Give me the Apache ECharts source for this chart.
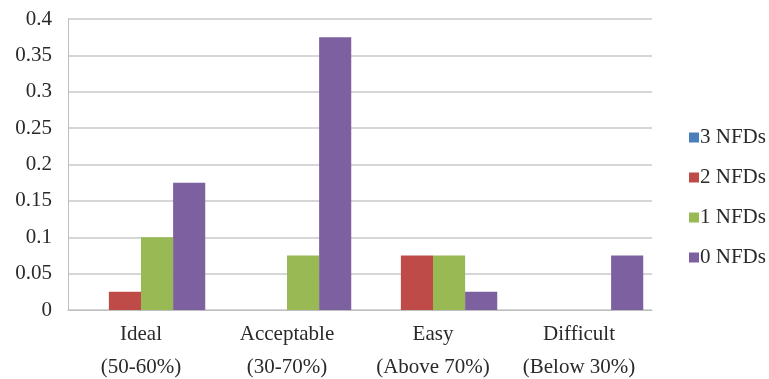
<!DOCTYPE html>
<html>
<head>
<meta charset="utf-8">
<script src="https://cdn.jsdelivr.net/npm/echarts@6/dist/echarts.min.js"></script>
<style>
  html, body { margin: 0; padding: 0; background: #fff; }
  #chart { width: 769px; height: 379px; }
</style>
</head>
<body>
<div id="chart"></div>
<script>
// Difficulty bands of the questions
const categories = ['Ideal\n(50-60%)', 'Acceptable\n(30-70%)', 'Easy\n(Above 70%)', 'Difficult\n(Below 30%)'];

// Share of items per number of non-functioning distractors
const seriesNames = ['3 NFDs', '2 NFDs', '1 NFDs', '0 NFDs'];
const nfd3 = [0, 0, 0, 0];
const nfd2 = [0.025, 0, 0.075, 0];
const nfd1 = [0.1, 0.075, 0.075, 0];
const nfd0 = [0.175, 0.375, 0.025, 0.075];

const colors = ['#4A7EBB', '#BE4B48', '#98B954', '#7D60A0'];
const serif = '"Liberation Serif", "Times New Roman", serif';
const textColor = '#2a2a2a';

const chart = echarts.init(document.getElementById('chart'));
const values = [nfd3, nfd2, nfd1, nfd0];

chart.setOption({
  animation: false,
  color: colors,
  grid: { left: 68, right: 117, top: 19, bottom: 69, outerBoundsMode: 'none', containLabel: false },
  legend: {
    orient: 'vertical',
    left: 684,
    top: 122,
    itemWidth: 10,
    itemHeight: 10,
    itemGap: 19,
    icon: 'rect',
    textStyle: { fontFamily: serif, fontSize: 21, color: textColor, padding: [0, 0, 0, -4] },
    data: seriesNames
  },
  xAxis: {
    type: 'category',
    data: categories,
    axisLine: { lineStyle: { color: '#BEBEBE', width: 1 } },
    axisTick: { show: false },
    axisLabel: {
      fontFamily: serif, fontSize: 21, color: textColor, lineHeight: 33, margin: 8,
      interval: 0
    }
  },
  yAxis: {
    type: 'value',
    min: 0,
    max: 0.4,
    interval: 0.05,
    axisLine: { show: true, lineStyle: { color: '#BEBEBE', width: 1 } },
    axisTick: { show: false },
    splitLine: { lineStyle: { color: '#C8C8C8', width: 1.5 } },
    axisLabel: { fontFamily: serif, fontSize: 21, color: textColor, margin: 16 }
  },
  series: seriesNames.map((name, i) => ({
    name: name,
    type: 'bar',
    data: values[i],
    barGap: '0%',
    barCategoryGap: '12%'
  }))
});
</script>
</body>
</html>
